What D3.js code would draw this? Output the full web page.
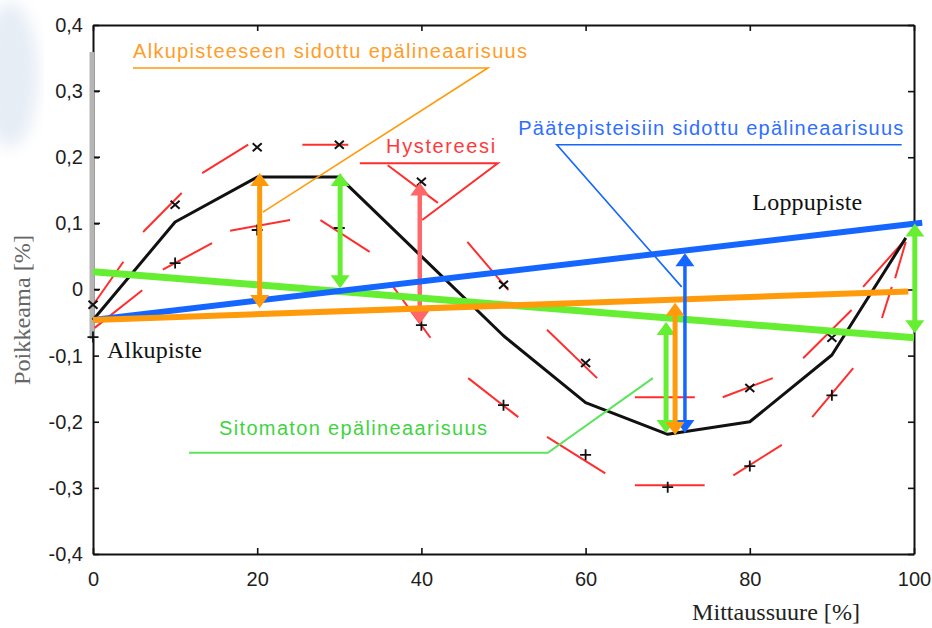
<!DOCTYPE html>
<html>
<head>
<meta charset="utf-8">
<script src="https://cdn.jsdelivr.net/npm/d3@7"></script>
<style>
  body { margin: 0; background: #fff; }
  svg { display: block; }
</style>
</head>
<body>
<div id="chart"></div>
<script>
// ---- data ----
// measuring points, % of range
const curveX = [0, 10, 20, 30, 40, 50, 60, 70, 80, 90, 99];
// mean deviation curve, %
const curveDev = [-0.046, 0.102, 0.170, 0.170, 0.050, -0.070, -0.171, -0.219, -0.200, -0.099, 0.078];

// rising readings (x markers)
const upX = [0, 10, 20, 30, 40, 50, 60, 80, 90];
const upDev = [-0.023, 0.128, 0.215, 0.219, 0.163, 0.007, -0.111, -0.149, -0.073];
// falling readings (+ markers)
const downX = [0, 10, 20, 30, 40, 50, 60, 70, 80, 90];
const downDev = [-0.072, 0.040, 0.090, 0.093, -0.054, -0.175, -0.250, -0.299, -0.267, -0.160];

// red dashed pieces of the two hysteresis branches [x1, dev1, x2, dev2]
const upDashes = [
  [0.2, -0.020, 3.7, 0.042], [6.1, 0.087, 10.8, 0.146], [13.3, 0.176, 18.9, 0.219],
  [25.5, 0.219, 31.1, 0.219], [35.9, 0.188, 42.0, 0.131], [45.6, 0.072, 50.6, -0.001],
  [55.3, -0.061, 61.4, -0.134], [66.0, -0.163, 73.3, -0.163], [76.7, -0.163, 82.8, -0.134],
  [86.5, -0.104, 92.4, -0.031], [93.8, 0.004, 98.9, 0.075]
];
const downDashes = [
  [0.2, -0.058, 6.0, -0.001], [8.5, 0.030, 14.5, 0.070], [16.7, 0.089, 24.0, 0.105],
  [27.7, 0.105, 33.7, 0.057], [36.4, 0.007, 41.1, -0.073], [45.7, -0.134, 51.8, -0.193],
  [55.3, -0.223, 62.4, -0.278], [66.0, -0.296, 74.5, -0.296], [78.0, -0.281, 83.9, -0.235],
  [87.6, -0.193, 92.6, -0.119], [96.1, -0.043, 97.3, 0.004], [97.7, 0.017, 99.0, 0.072]
];

// straight reference lines [x, dev]
const unboundLine = [[0, 0.027], [100, -0.073]];     // sitomaton
const endpointLine = [[0, -0.046], [101, 0.101]];    // päätepisteisiin sidottu
const startLine = [[0, -0.046], [99.3, -0.003]];     // alkupisteeseen sidottu

// double arrows: x, from, to, kind
const arrows = [
  { x: 39.8, from: -0.052, to: 0.162, kind: "hyst" },
  { x: 30.1, from: 0.002, to: 0.176, kind: "unbound" },
  { x: 69.8, from: -0.217, to: -0.049, kind: "unbound" },
  { x: 100.1, from: -0.066, to: 0.100, kind: "unbound" },
  { x: 72.1, from: -0.217, to: 0.055, kind: "endpoint" },
  { x: 20.3, from: -0.028, to: 0.176, kind: "start" },
  { x: 70.9, from: -0.220, to: -0.020, kind: "start" }
];

const xTicks = [0, 20, 40, 60, 80, 100];
const yTicks = [-0.4, -0.3, -0.2, -0.1, 0, 0.1, 0.2, 0.3, 0.4];

// ---- layout ----
const W = 932, H = 628;
const margin = { top: 25, right: 18, bottom: 74, left: 93 };
const width = W - margin.left - margin.right;
const height = H - margin.top - margin.bottom;

const colors = {
  start: "#ff9a0a", endpoint: "#1466ff", unbound: "#66ee33", hyst: "#ff6868",
  red: "#ff2e2e", startText: "#ff9d2a", endpointText: "#2f6fff", unboundText: "#3fd43f", hystText: "#ff3a3a"
};

const x = d3.scaleLinear().domain([0, 100]).range([0, width]);
const y = d3.scaleLinear().domain([-0.4, 0.4]).range([height, 0]);

const svg = d3.select("#chart").append("svg").attr("width", W).attr("height", H);

// faint bluish blot at the top left of the scan
const defs = svg.append("defs");
defs.append("filter").attr("id", "blur").append("feGaussianBlur").attr("stdDeviation", 8);
svg.append("ellipse").attr("cx", 10).attr("cy", 75).attr("rx", 28).attr("ry", 72)
  .attr("fill", "#e6edf5").attr("filter", "url(#blur)");

const g = svg.append("g").attr("transform", "translate(" + margin.left + "," + margin.top + ")");

// ---- axes ----
const fi = d3.formatLocale({ decimal: ",", thousands: " ", grouping: [3], currency: ["", " €"], minus: "-" });
const f1 = fi.format(".1f");

const yAxis = d3.axisLeft(y).tickValues(yTicks).tickSizeInner(-6).tickSizeOuter(0).tickPadding(10)
  .tickFormat(d => Math.abs(d) < 1e-9 ? "0" : f1(d));
const xAxis = d3.axisBottom(x).tickValues(xTicks).tickSizeInner(-6).tickSizeOuter(0).tickPadding(18)
  .tickFormat(d3.format("d"));
const topAxis = d3.axisTop(x).tickValues(xTicks).tickSizeInner(-6).tickSizeOuter(0).tickFormat("");
const rightAxis = d3.axisRight(y).tickValues(yTicks).tickSizeInner(-6).tickSizeOuter(0).tickFormat("");

function styleAxis(sel) {
  sel.selectAll("path.domain").attr("stroke", "#111").attr("stroke-width", 2);
  sel.selectAll(".tick line").attr("stroke", "#111").attr("stroke-width", 1.6);
  sel.selectAll(".tick text").attr("fill", "#1e1e1e").style("font-family", "'Liberation Sans', Arial, sans-serif")
    .style("font-size", "20px");
}

g.append("g").attr("transform", "translate(0," + height + ")").call(xAxis).call(styleAxis);
g.append("g").call(topAxis).call(styleAxis);
g.append("g").attr("transform", "translate(" + width + ",0)").call(rightAxis).call(styleAxis);
g.append("g").call(yAxis).call(styleAxis);

// grey overprint on the upper part of the left axis
g.append("line").attr("x1", -1).attr("x2", -1).attr("y1", 27).attr("y2", y(-0.075))
  .attr("stroke", "#b5b5b5").attr("stroke-width", 5);
g.selectAll(".leftticks").data(yTicks.filter(d => d > -0.1 && d < 0.4)).enter().append("line")
  .attr("x1", 1).attr("x2", 7).attr("y1", d => y(d)).attr("y2", d => y(d))
  .attr("stroke", "#111").attr("stroke-width", 1.6);

// axis titles
svg.append("text").attr("x", 776).attr("y", 620).attr("text-anchor", "middle")
  .attr("textLength", 168).attr("lengthAdjust", "spacingAndGlyphs")
  .style("font-family", "'Liberation Serif', 'Times New Roman', serif").style("font-size", "24px")
  .attr("fill", "#222").text("Mittaussuure [%]");
svg.append("text").attr("transform", "translate(30,310) rotate(-90)").attr("text-anchor", "middle")
  .attr("textLength", 150).attr("lengthAdjust", "spacingAndGlyphs")
  .style("font-family", "'Liberation Serif', 'Times New Roman', serif").style("font-size", "24px")
  .attr("fill", "#666").text("Poikkeama [%]");

// ---- arrows ----
function drawArrow(a, color, shaft) {
  const xa = x(a.x), yb = y(a.from), yt = y(a.to);
  const hl = 13, hw = 9.5;
  const ag = g.append("g");
  ag.append("line").attr("x1", xa).attr("x2", xa).attr("y1", yb - hl + 1).attr("y2", yt + hl - 1)
    .attr("stroke", color).attr("stroke-width", shaft);
  ag.append("path").attr("d", "M" + xa + "," + yt + "L" + (xa - hw) + "," + (yt + hl) + "L" + (xa + hw) + "," + (yt + hl) + "Z")
    .attr("fill", color);
  ag.append("path").attr("d", "M" + xa + "," + yb + "L" + (xa - hw) + "," + (yb - hl) + "L" + (xa + hw) + "," + (yb - hl) + "Z")
    .attr("fill", color);
}

// ---- red dashed branches ----
g.selectAll(".dash").data(upDashes.concat(downDashes)).enter().append("line")
  .attr("x1", d => x(d[0])).attr("y1", d => y(d[1])).attr("x2", d => x(d[2])).attr("y2", d => y(d[3]))
  .attr("stroke", colors.red).attr("stroke-width", 2);

// ---- mean curve ----
const line = d3.line().x(d => x(d[0])).y(d => y(d[1]));
g.append("path").datum(curveX.map((d, i) => [d, curveDev[i]]))
  .attr("d", line).attr("fill", "none").attr("stroke", "#111").attr("stroke-width", 3)
  .attr("stroke-linejoin", "round");

// ---- markers ----
g.selectAll(".up").data(upX.map((d, i) => [d, upDev[i]])).enter().append("path")
  .attr("transform", d => "translate(" + x(d[0]) + "," + y(d[1]) + ")")
  .attr("d", "M-4.5,-4L4.5,4M-4.5,4L4.5,-4").attr("stroke", "#111").attr("stroke-width", 2).attr("fill", "none");
g.selectAll(".down").data(downX.map((d, i) => [d, downDev[i]])).enter().append("path")
  .attr("transform", d => "translate(" + x(d[0]) + "," + y(d[1]) + ")")
  .attr("d", "M-5.5,0H5.5M0,-5.5V5.5").attr("stroke", "#111").attr("stroke-width", 1.8).attr("fill", "none");

drawArrow(arrows[0], colors.hyst, 4.5);

// ---- straight lines ----
g.append("path").datum(unboundLine).attr("d", line).attr("stroke", colors.unbound).attr("stroke-width", 7).attr("fill", "none");
g.append("path").datum(endpointLine).attr("d", line).attr("stroke", colors.endpoint).attr("stroke-width", 6).attr("fill", "none");
g.append("path").datum(startLine).attr("d", line).attr("stroke", colors.start).attr("stroke-width", 6).attr("fill", "none");

arrows.slice(1).forEach(a => drawArrow(a, colors[a.kind], a.kind === "endpoint" ? 3.5 : 5));

// ---- annotations (positions in data units) ----
const sans = "'Liberation Sans', Arial, sans-serif";
const serif = "'Liberation Serif', 'Times New Roman', serif";
const notes = [
  { t: "Alkupisteeseen sidottu epälineaarisuus", x: 4.87, y: 0.350, len: 394, c: colors.startText, f: sans },
  { t: "Hystereesi", x: 35.7, y: 0.206, len: 109, c: colors.hystText, f: sans },
  { t: "Päätepisteisiin sidottu epälineaarisuus", x: 51.8, y: 0.234, len: 385, c: colors.endpointText, f: sans },
  { t: "Sitomaton epälineaarisuus", x: 15.35, y: -0.220, len: 268, c: colors.unboundText, f: sans },
  { t: "Loppupiste", x: 80.3, y: 0.120, len: 110, c: "#111", f: serif, s: 24 },
  { t: "Alkupiste", x: 1.7, y: -0.104, len: 95, c: "#111", f: serif, s: 24 }
];
g.selectAll(".note").data(notes).enter().append("text")
  .attr("x", d => x(d.x)).attr("y", d => y(d.y))
  .attr("textLength", d => d.len).attr("lengthAdjust", "spacing")
  .style("font-family", d => d.f).style("font-size", d => (d.s || 20) + "px")
  .attr("fill", d => d.c).text(d => d.t);

const leaders = [
  { pts: [[4.87, 0.335], [48.1, 0.335], [20.7, 0.117]], c: colors.start, w: 1.6 },
  { pts: [[32.5, 0.191], [49.3, 0.191], [40.1, 0.105]], c: colors.red, w: 2 },
  { pts: [[98.5, 0.219], [56.5, 0.219], [71.7, 0.004]], c: colors.endpoint, w: 1.6 },
  { pts: [[11.7, -0.247], [55.4, -0.247], [68.2, -0.134]], c: "#5ce45c", w: 2 }
];
g.selectAll(".leader").data(leaders).enter().append("path")
  .attr("d", d => line(d.pts)).attr("fill", "none")
  .attr("stroke", d => d.c).attr("stroke-width", d => d.w);
</script>
</body>
</html>
